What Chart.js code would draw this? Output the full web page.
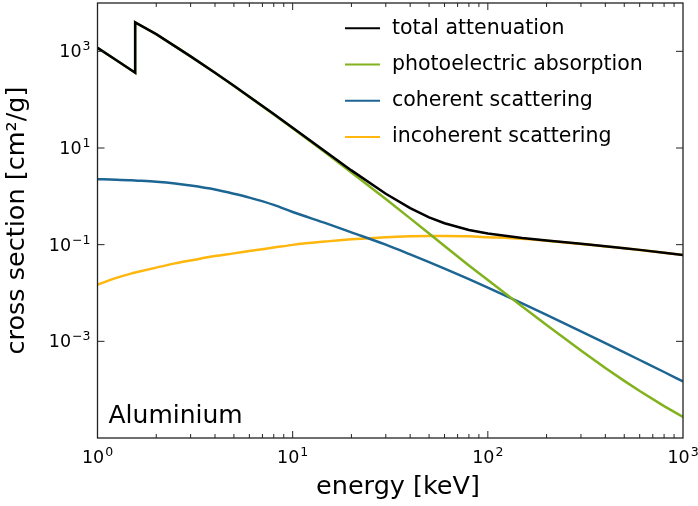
<!DOCTYPE html>
<html>
<head>
<meta charset="utf-8">
<script src="https://cdn.jsdelivr.net/npm/chart.js@4.4.1/dist/chart.umd.min.js"></script>
<style>
  html, body { margin: 0; padding: 0; background: #fff; }
  #wrap { width: 698px; height: 506px; }
</style>
</head>
<body>
<div id="wrap"><canvas id="xsChart" width="698" height="506"></canvas></div>
<script>
// photon energies [keV], the K edge of Al appears twice (below / above)
const energy = [1, 1.25, 1.5, 1.5596, 1.5596, 2, 2.5, 3, 4, 5, 6, 8, 10, 15, 20, 30, 40, 50, 60, 80,
    100, 150, 200, 300, 400, 500, 600, 800, 1000];

// cross sections [cm2/g]
const totalAtt = [1185, 654, 402.2, 362.1, 3957, 2263, 1267, 788.0, 360.5, 193.4, 115.3, 50.33, 26.23, 7.955,
    3.441, 1.128, 0.5685, 0.3681, 0.2778, 0.2018, 0.1704, 0.1378, 0.1223, 0.1042, 0.09276, 0.08445,
    0.07802, 0.06841, 0.06146];
const photoAbs = [1183, 652, 400, 360, 3955, 2261, 1265, 786, 359, 192.2, 114.2, 49.6, 25.7, 7.57,
    3.13, 0.88, 0.35, 0.17, 0.094, 0.037, 0.0185, 0.00527, 0.00219, 0.000649, 0.000282, 0.000152,
    0.0000936, 0.0000456, 0.0000273];
const coherent = [2.26, 2.21, 2.15, 2.13, 2.13, 2.0, 1.84, 1.67, 1.38, 1.13, 0.94, 0.665, 0.475, 0.272,
    0.18, 0.100, 0.063, 0.0436, 0.032, 0.0193, 0.0129, 0.0061, 0.00353, 0.00161, 0.000917, 0.00059,
    0.000411, 0.000232, 0.000148];
const incoherent = [0.0148, 0.0205, 0.0255, 0.0265, 0.0265, 0.0335, 0.041, 0.047, 0.058, 0.066, 0.074, 0.087, 0.099, 0.117,
    0.129, 0.143, 0.149, 0.151, 0.151, 0.149, 0.143, 0.132, 0.12, 0.1035, 0.092, 0.0840,
    0.0777, 0.0682, 0.0613];

const seriesNames = ["total attenuation", "photoelectric absorption", "coherent scattering", "incoherent scattering"];
const seriesColors = ["#000000", "#82b21e", "#1d6592", "#ffb60d"];

const xTicks = [1, 10, 100, 1000];
const xTickExp = ["0", "1", "2", "3"];
const yTicks = [1e-3, 1e-1, 1e1, 1e3];
const yTickExp = ["\u22123", "\u22121", "1", "3"];

const FONT = '"DejaVu Sans", "Liberation Sans", sans-serif';

// {x, y} points; a repeated energy with the same value is dropped (only the edge needs it)
function toPoints(values) {
    const pts = [];
    energy.forEach((e, i) => {
        if (i > 0 && e === energy[i - 1] && values[i] === values[i - 1]) return;
        pts.push({ x: e, y: values[i] });
    });
    return pts;
}

// draws "10" with a raised exponent, base line at py
function drawPower(ctx, exp, px, py, align) {
    ctx.font = "17.5px " + FONT;
    const wb = ctx.measureText("10").width;
    ctx.font = "12.5px " + FONT;
    const we = ctx.measureText(exp).width;
    const w = wb + 1 + we;
    const left = align === "right" ? px - w : px - w / 2;
    ctx.textAlign = "left";
    ctx.textBaseline = "alphabetic";
    ctx.font = "17.5px " + FONT;
    ctx.fillText("10", left, py);
    ctx.font = "12.5px " + FONT;
    ctx.fillText(exp, left + wb + 1, py - 7);
}

const framePlugin = {
    id: "frame",
    afterDraw(chart) {
        const { ctx, chartArea: a, scales: { x, y } } = chart;
        ctx.save();

        // box round the plot
        ctx.strokeStyle = "#222";
        ctx.lineWidth = 1.3;
        ctx.strokeRect(a.left, a.top, a.right - a.left, a.bottom - a.top);

        // ticks point inwards, on all four sides
        ctx.lineWidth = 1;
        ctx.beginPath();
        for (let dec = 1; dec < 1000; dec *= 10) {
            for (let m = 1; m < 10; m++) {
                const px = x.getPixelForValue(dec * m);
                const len = m === 1 ? 7 : 4;
                ctx.moveTo(px, a.bottom); ctx.lineTo(px, a.bottom - len);
                ctx.moveTo(px, a.top); ctx.lineTo(px, a.top + len);
            }
        }
        yTicks.forEach(v => {
            const py = y.getPixelForValue(v);
            ctx.moveTo(a.left, py); ctx.lineTo(a.left + 7, py);
            ctx.moveTo(a.right, py); ctx.lineTo(a.right - 7, py);
        });
        ctx.stroke();

        // tick labels
        ctx.fillStyle = "#000";
        xTicks.forEach((v, i) => drawPower(ctx, xTickExp[i], x.getPixelForValue(v), a.bottom + 25, "center"));
        yTicks.forEach((v, i) => drawPower(ctx, yTickExp[i], a.left - 7, y.getPixelForValue(v) + 6, "right"));

        // x axis title, a little right of centre as in the original
        ctx.font = "25.5px " + FONT;
        ctx.textAlign = "center";
        ctx.textBaseline = "middle";
        ctx.fillText("energy [keV]", 398, 487);

        // legend, top right inside the axes
        chart.data.datasets.forEach((ds, i) => {
            const ly = 28.3 + i * 36.2;
            ctx.strokeStyle = ds.borderColor;
            ctx.lineWidth = 2;
            ctx.beginPath();
            ctx.moveTo(345, ly); ctx.lineTo(380, ly);
            ctx.stroke();
            ctx.font = "20.5px " + FONT;
            ctx.textAlign = "left";
            ctx.textBaseline = "middle";
            ctx.fillText(ds.label, 392, ly);
        });

        // element name
        ctx.font = "25px " + FONT;
        ctx.textAlign = "left";
        ctx.textBaseline = "alphabetic";
        ctx.fillText("Aluminium", a.left + 11, a.bottom - 15);

        ctx.restore();
    }
};

const allSeries = [totalAtt, photoAbs, coherent, incoherent];

new Chart(document.getElementById("xsChart"), {
    type: "line",
    data: {
        datasets: allSeries.map((vals, i) => ({
            label: seriesNames[i],
            data: toPoints(vals),
            borderColor: seriesColors[i],
            backgroundColor: seriesColors[i],
            borderWidth: 2.5,
            pointRadius: 0,
            fill: false,
            // the two scattering curves have no edge, so they can be smoothed
            cubicInterpolationMode: i >= 2 ? "monotone" : "default",
            tension: 0
        }))
    },
    options: {
        responsive: false,
        animation: false,
        devicePixelRatio: 1,
        layout: { padding: { top: 3, right: 15, left: 0, bottom: 0 } },
        plugins: {
            legend: { display: false },
            tooltip: { enabled: false }
        },
        scales: {
            x: {
                type: "logarithmic",
                min: 1,
                max: 1000,
                grid: { display: false, drawTicks: false },
                border: { display: false },
                ticks: { display: false },
                afterBuildTicks: s => { s.ticks = xTicks.map(v => ({ value: v })); },
                afterFit: s => { s.height = 68; }
            },
            y: {
                type: "logarithmic",
                min: 1e-5,
                max: 1e4,
                grid: { display: false, drawTicks: false },
                border: { display: false },
                ticks: { display: false },
                afterBuildTicks: s => { s.ticks = yTicks.map(v => ({ value: v })); },
                afterFit: s => { s.width = 97.5; },
                title: {
                    display: true,
                    text: "cross section [cm\u00b2/g]",
                    color: "#000",
                    font: { family: FONT, size: 25.5 },
                    padding: { top: 2, bottom: 0 }
                }
            }
        }
    },
    plugins: [framePlugin]
});
</script>
</body>
</html>
